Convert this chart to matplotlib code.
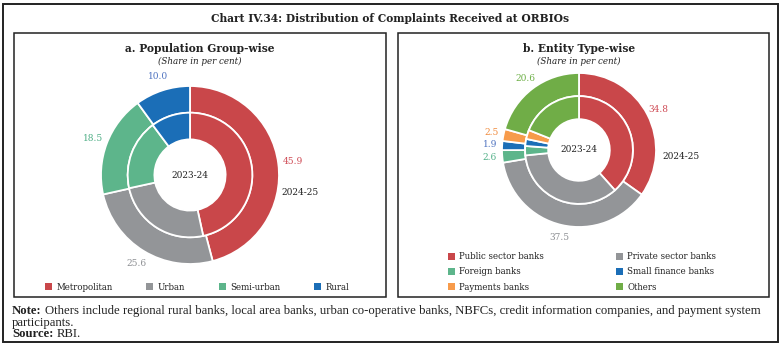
import matplotlib
matplotlib.use("Agg")
import matplotlib.pyplot as plt
from matplotlib.patches import Rectangle, Patch

W, H = 781, 346
SERIF = "DejaVu Serif"
NOTE = "Liberation Serif"

# a. population group-wise (share in per cent)
pop_groups = ["Metropolitan", "Urban", "Semi-urban", "Rural"]
pop_2425 = [45.9, 25.6, 18.5, 10.0]
pop_2324 = [46.6, 25.0, 18.2, 10.2]

# b. entity type-wise (share in per cent)
entities = ["Public sector banks", "Private sector banks", "Foreign banks",
            "Small finance banks", "Payments banks", "Others"]
ent_2425 = [34.8, 37.5, 2.6, 1.9, 2.5, 20.6]
ent_2324 = [38.4, 35.0, 2.8, 2.1, 2.7, 19.0]

RED, GREY, TEAL, BLUE = "#C9474A", "#939598", "#5DB58B", "#1B6EB7"
ORANGE, GREEN = "#F79B4B", "#70AD47"
pop_colors = [RED, GREY, TEAL, BLUE]
ent_colors = [RED, GREY, TEAL, BLUE, ORANGE, GREEN]
lab_colors = {RED: "#CF4B55", GREY: "#8C8E92", TEAL: "#4FAF86",
              BLUE: "#4F73C0", ORANGE: "#F08A3C", GREEN: "#6CAF45"}

fig = plt.figure(figsize=(W / 100, H / 100), dpi=100)
bg = fig.add_axes([0, 0, 1, 1])
bg.set_xlim(0, W)
bg.set_ylim(H, 0)
bg.axis("off")

# frames
bg.add_patch(Rectangle((3, 4), 775, 338, fill=False, lw=1.4, ec="#222222"))
bg.add_patch(Rectangle((14, 33), 372, 264, fill=False, lw=1.1, ec="#222222"))
bg.add_patch(Rectangle((398, 33), 371, 264, fill=False, lw=1.1, ec="#222222"))

bg.text(390, 19, "Chart IV.34: Distribution of Complaints Received at ORBIOs",
        ha="center", va="center", fontsize=7.7, fontweight="bold",
        family=SERIF, color="#222222")
for x, t in [(200, "a. Population Group-wise"), (579, "b. Entity Type-wise")]:
    bg.text(x, 49, t, ha="center", va="center", fontsize=7.7,
            fontweight="bold", family=SERIF, color="#222222")
    bg.text(x, 61, "(Share in per cent)", ha="center", va="center",
            fontsize=6.3, style="italic", family=SERIF, color="#222222")

# note and source
nkw = dict(va="center", fontsize=9.2, family=NOTE, color="#222222")
n1 = bg.text(12, 311, "Note:", ha="left", fontweight="bold", **nkw)
bg.annotate("Others include regional rural banks, local area banks, "
            "urban co-operative banks, NBFCs, credit information companies, "
            "and payment system", xy=(1, 0.5), xycoords=n1,
            xytext=(2.5, 0), textcoords="offset points", ha="left", **nkw)
bg.text(12, 323, "participants.", ha="left", **nkw)
s1 = bg.text(12, 334, "Source:", ha="left", fontweight="bold", **nkw)
bg.annotate("RBI.", xy=(1, 0.5), xycoords=s1, xytext=(2.5, 0),
            textcoords="offset points", ha="left", **nkw)


def donut(cx, cy, r, outer, inner, colors, year_pos):
    ax = fig.add_axes([(cx - r) / W, 1 - (cy + r) / H, 2 * r / W, 2 * r / H])
    wp = dict(width=0.30, edgecolor="white", linewidth=1.3)
    wedges, texts = ax.pie(outer, radius=1.0, startangle=90, counterclock=False,
                           colors=colors, wedgeprops=wp,
                           labels=[f"{v:.1f}" for v in outer],
                           labeldistance=1.16,
                           textprops=dict(fontsize=6.5, family=SERIF))
    for t, c in zip(texts, colors):
        t.set_color(lab_colors[c])
        t.set_ha("center")
        t.set_va("center")
    ax.pie(inner, radius=0.70, startangle=90, counterclock=False,
           colors=colors, wedgeprops=wp)
    ax.text(0, 0, "2023-24", ha="center", va="center", fontsize=6.5,
            family=SERIF, color="#222222")
    ax.text(year_pos[0], year_pos[1], "2024-25", ha="center", va="center",
            fontsize=6.5, family=SERIF, color="#222222")
    ax.set_xlim(-1, 1)
    ax.set_ylim(-1, 1)
    ax.set_aspect("equal")


donut(190, 175, 89, pop_2425, pop_2324, pop_colors, (1.24, -0.20))
donut(579, 150, 77, ent_2425, ent_2324, ent_colors, (1.33, -0.08))

leg_kw = dict(frameon=False, handlelength=0.85, handleheight=0.85,
              handletextpad=0.5, prop=dict(family=SERIF, size=6.2),
              labelcolor="#222222")
fig.legend([Patch(fc=c, ec="none") for c in pop_colors], pop_groups, ncol=4,
           loc="center", columnspacing=3.9,
           bbox_to_anchor=(197 / W, 1 - 287 / H), **leg_kw)
order = [0, 2, 4, 1, 3, 5]
fig.legend([Patch(fc=ent_colors[i], ec="none") for i in order],
           [entities[i] for i in order], ncol=2, loc="center",
           columnspacing=8.3, labelspacing=0.72,
           bbox_to_anchor=(582 / W, 1 - 272 / H), **leg_kw)

fig.savefig("out.png", dpi=100)
